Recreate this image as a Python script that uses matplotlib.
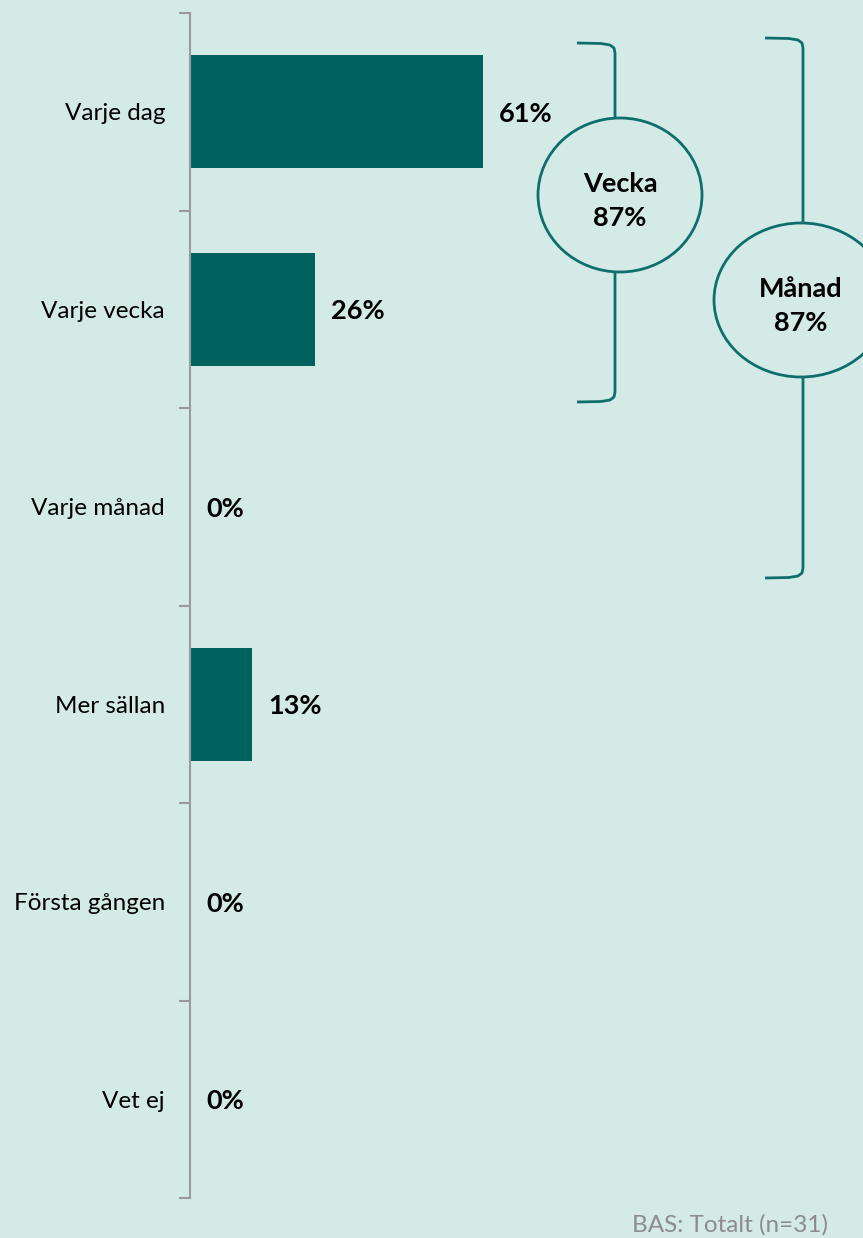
import matplotlib.pyplot as plt
from matplotlib.patches import Ellipse
import numpy as np

plt.rcParams['font.family'] = ['Lato', 'DejaVu Sans']

# data
categories = ['Varje dag', 'Varje vecka', 'Varje månad', 'Mer sällan', 'Första gången', 'Vet ej']
values = [61, 26, 0, 13, 0, 0]
groups = ['Vecka\n87%', 'Månad\n87%']

bg = '#D3EAE7'
bar_color = '#00625F'
line_color = '#0E6E6B'

W, H = 863, 1238
fig = plt.figure(figsize=(W / 100, H / 100), dpi=100, facecolor=bg)

# bar axes: x from px 190 to 863, y from px 13 to 1198
ax = fig.add_axes([190 / W, 1 - 1198 / H, 673 / W, (1198 - 13) / H])
ax.set_facecolor(bg)
y = np.arange(len(categories))
ax.barh(y, values, height=0.57, color=bar_color)
ax.set_xlim(0, 673 / 4.8)
ax.set_ylim(len(categories) - 0.5, -0.5)

for yi, v in zip(y, values):
    ax.text(v + 3.4, yi + 0.01, f'{v}%', va='center', ha='left', fontsize=19.5, fontweight='bold')

for s in ['top', 'right', 'bottom']:
    ax.spines[s].set_visible(False)
ax.spines['left'].set_color('#9A9A9A')
ax.spines['left'].set_linewidth(1.5)
ax.set_xticks([])
ax.set_yticks(np.arange(-0.5, len(categories)), minor=False)
ax.set_yticklabels([])
ax.tick_params(axis='y', length=8, width=1.5, color='#9A9A9A')
for yi, c in zip(y, categories):
    ax.text(-0.037, yi + 0.01, c, transform=ax.get_yaxis_transform(), ha='right', va='center', fontsize=17.5)

# overlay in pixel coordinates for brackets and circles
ov = fig.add_axes([0, 0, 1, 1])
ov.set_xlim(0, W)
ov.set_ylim(H, 0)
ov.axis('off')


def bracket(x, top, bottom, left):
    xs = [left, x - 14, x - 5, x - 1, x, x, x - 1, x - 5, x - 14, left]
    ys = [top, top + 0.5, top + 2, top + 5, top + 10, bottom - 10, bottom - 5, bottom - 2, bottom - 0.5, bottom]
    ov.plot(xs, ys, color=line_color, lw=2, solid_capstyle='butt', solid_joinstyle='round')


bracket(615, 43, 402, 577)
bracket(803, 38, 578, 765)

for (cx, cy, rx, ry), label in zip([(620, 195, 82, 77), (801, 300, 87, 77)], groups):
    ov.add_patch(Ellipse((cx, cy), 2 * rx, 2 * ry, facecolor=bg, edgecolor=line_color, lw=2, zorder=3))
    ov.text(cx, cy + 6, label, ha='center', va='center', fontsize=19.5, fontweight='bold',
            linespacing=1.5, zorder=4)

fig.text(828 / W, 1 - 1225 / H, 'BAS: Totalt (n=31)', ha='right', va='center', fontsize=17.5, color='#8C8C8C')

fig.savefig('out.png', dpi=100, facecolor=bg)
